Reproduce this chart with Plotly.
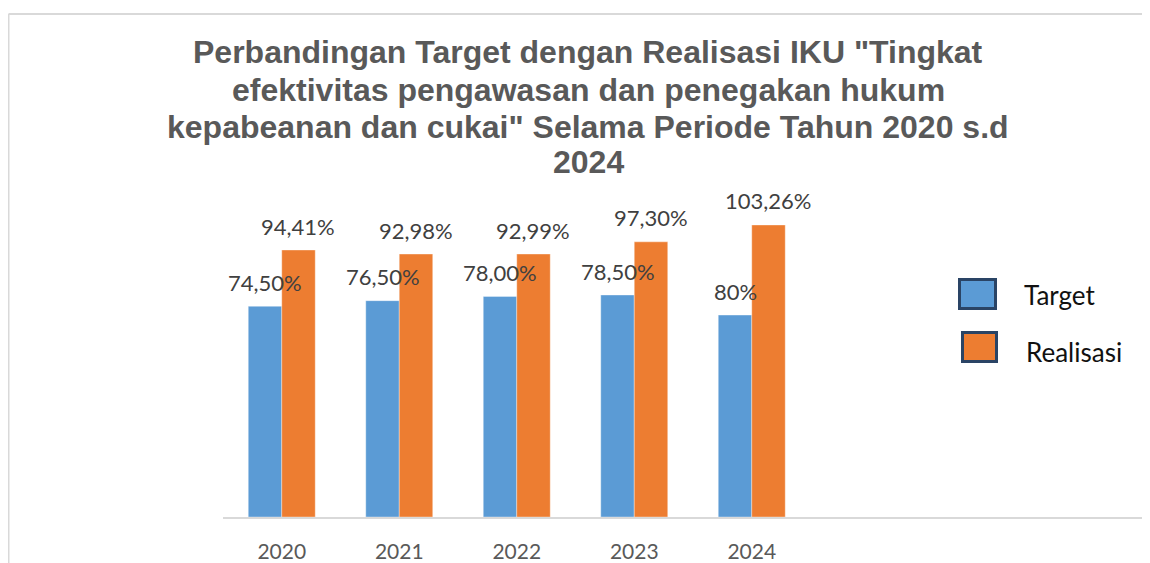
import plotly.graph_objects as go

years = ["2020", "2021", "2022", "2023", "2024"]
target = [74.5, 76.5, 78.0, 78.5, 71.4]
realisasi = [94.41, 92.98, 92.99, 97.30, 103.26]
target_labels = ["74,50%", "76,50%", "78,00%", "78,50%", "80%"]
realisasi_labels = ["94,41%", "92,98%", "92,99%", "97,30%", "103,26%"]
series_names = ["Target", "Realisasi"]
colors = ["#5b9bd5", "#ed7d31"]

OFF = 8  # page body margin
W, H = 1150 - OFF, 563 - OFF
L, R, T, B = 223 - OFF, 0, 200 - OFF, 46
pw, ph = W - L - R, H - T - B
base_page = 517


def px(xp):
    return (xp - OFF - L) / pw


def py(yp):
    return (base_page - yp) / ph


fig = go.Figure()
fig.add_trace(go.Bar(x=years, y=target, name=series_names[0], marker_color=colors[0],
                     marker_line=dict(width=0.6, color="rgba(255,255,255,0.6)")))
fig.add_trace(go.Bar(x=years, y=realisasi, name=series_names[1], marker_color=colors[1],
                     marker_line=dict(width=0.6, color="rgba(255,255,255,0.6)")))

ann = []
lab_font = dict(family="Lato, Carlito, sans-serif", size=22, color="#404040")
for i, (v, t) in enumerate(zip(target, target_labels)):
    ann.append(dict(x=i, y=v, text=t, showarrow=False, xshift=-16.5, yshift=24,
                    yanchor="middle", font=lab_font))
for i, (v, t) in enumerate(zip(realisasi, realisasi_labels)):
    ann.append(dict(x=i, y=v, text=t, showarrow=False, xshift=16.5, yshift=24,
                    yanchor="middle", font=lab_font))

# Title lines
title_lines = ['Perbandingan Target dengan Realisasi IKU "Tingkat',
               'efektivitas pengawasan dan penegakan hukum',
               'kepabeanan dan cukai" Selama Periode Tahun 2020 s.d',
               '2024']
title_y = [52, 90, 127, 162]
for line, yy in zip(title_lines, title_y):
    ann.append(dict(xref="paper", yref="paper", x=px(588), y=py(yy),
                    text="<b>" + line + "</b>", showarrow=False, xanchor="center",
                    yanchor="middle",
                    font=dict(family="Liberation Sans, Arial, sans-serif", size=32,
                              color="#595959")))

# Manual legend
shapes = []
leg_boxes = [(958, 997, 278, 310), (961, 998, 331, 363)]
leg_text = [(1022, 295), (1024, 352)]
for name, c, (x0, x1, y0, y1), (tx, ty) in zip(series_names, colors, leg_boxes, leg_text):
    shapes.append(dict(type="rect", xref="paper", yref="paper",
                       x0=px(x0 + 1.5), x1=px(x1 - 1.5), y0=py(y0 + 1.5), y1=py(y1 - 1.5),
                       fillcolor=c, line=dict(color="#2a4465", width=3)))
    ann.append(dict(xref="paper", yref="paper", x=px(tx), y=py(ty),
                    text=name, showarrow=False, xanchor="left", yanchor="middle",
                    font=dict(family="Lato, Carlito, sans-serif", size=26, color="#111111")))

# Outer frame lines (top and left)
shapes.append(dict(type="line", xref="paper", yref="paper",
                   x0=px(8.5), x1=px(1160), y0=py(14), y1=py(14),
                   line=dict(color="#d9d9d9", width=2)))
shapes.append(dict(type="line", xref="paper", yref="paper",
                   x0=px(8.5), x1=px(8.5), y0=py(14), y1=py(570),
                   line=dict(color="#d9d9d9", width=2)))

cat_px = 117.5
xmax = -0.5 + pw / cat_px
ymax = ph / 2.828

fig.update_layout(
    width=W, height=H,
    margin=dict(l=L, r=R, t=T, b=B),
    paper_bgcolor="white", plot_bgcolor="white",
    barmode="group", bargap=0.43, bargroupgap=0,
    showlegend=False,
    annotations=ann, shapes=shapes,
    xaxis=dict(type="category", range=[-0.5, xmax], showline=True, linecolor="#d9d9d9",
               linewidth=2, ticks="", showgrid=False, ticklabelstandoff=15,
               tickfont=dict(family="Lato, Carlito, sans-serif", size=21, color="#595959")),
    yaxis=dict(range=[0, ymax], visible=False, showgrid=False, zeroline=False),
)

fig.write_html("out.html")
